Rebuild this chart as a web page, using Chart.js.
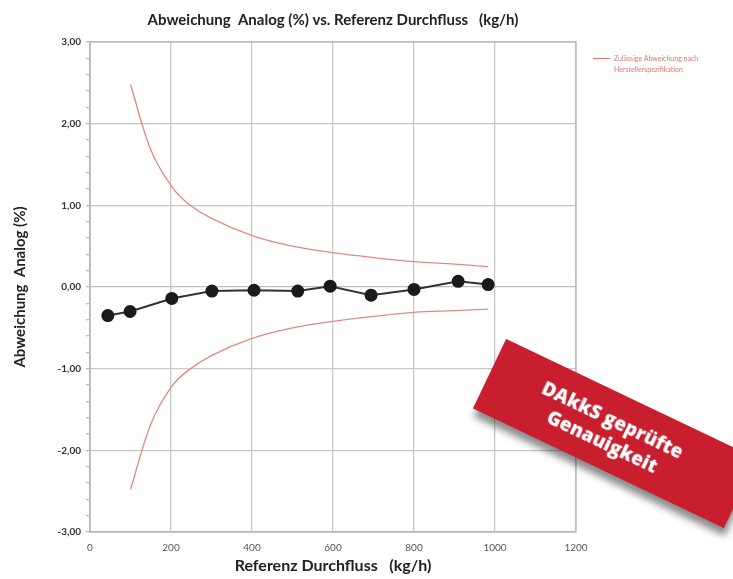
<!DOCTYPE html>
<html>
<head>
<meta charset="utf-8">
<script src="https://cdn.jsdelivr.net/npm/chart.js@4/dist/chart.umd.min.js"></script>
<style>
html,body{margin:0;padding:0;background:#fff;}
#wrap{position:relative;width:733px;height:579px;overflow:hidden;}
#legend{position:absolute;left:593px;top:53px;font-family:Lato,"Open Sans",sans-serif;font-size:7px;color:#d9776f;line-height:11px;}
#legend .ln{position:absolute;left:0;top:5px;width:17px;height:1px;background:#d9776f;}
#legend .tx{margin-left:21px;}
#badge{position:absolute;left:476px;top:395px;width:278px;height:77px;background:#c81e2d;transform:rotate(25.5deg);box-shadow:4px 7px 7px rgba(0,0,0,0.45);color:#fff;font-family:"Open Sans",Lato,sans-serif;font-weight:800;font-size:19px;line-height:24px;text-align:center;display:flex;flex-direction:column;justify-content:center;padding-right:16px;box-sizing:border-box;}
</style>
</head>
<body>
<div id="wrap">
<canvas id="c" width="733" height="579"></canvas>
<div id="legend"><div class="ln"></div><div class="tx">Zulässige Abweichung nach<br>Herstellerspezifikation</div></div>
<div id="badge"><div>DAkkS geprüfte</div><div>Genauigkeit</div></div>
</div>
<script>
const measX = [44, 99, 202, 301, 405, 513, 593, 694, 800, 909, 983];
const measY = [-0.35, -0.30, -0.14, -0.05, -0.04, -0.05, 0.01, -0.10, -0.03, 0.07, 0.03];
const limX = [100, 150, 200, 240, 300, 400, 500, 600, 700, 800, 900, 983];
const limUpper = [2.48, 1.68, 1.24, 1.03, 0.84, 0.63, 0.50, 0.42, 0.36, 0.31, 0.28, 0.25];
const limLower = [-2.48, -1.68, -1.23, -1.03, -0.84, -0.63, -0.50, -0.42, -0.36, -0.31, -0.29, -0.27];
const xTicks = [0, 200, 400, 600, 800, 1000, 1200];
const yTicks = ['-3,00', '-2,00', '-1,00', '0,00', '1,00', '2,00', '3,00'];

const toPts = (xs, ys) => xs.map((x, i) => ({x: x, y: ys[i]}));
const isInt = v => Math.abs(v - Math.round(v)) < 1e-6;
const fontFam = 'Lato, "Open Sans", sans-serif';

new Chart(document.getElementById('c'), {
  type: 'scatter',
  data: {
    datasets: [
      {label: 'Messung', data: toPts(measX, measY), showLine: true, borderColor: '#333', borderWidth: 2,
       pointRadius: 5.5, pointHoverRadius: 5.5, pointBackgroundColor: '#1a1a1a', pointBorderColor: '#1a1a1a', tension: 0},
      {label: 'Zulässige Abweichung nach Herstellerspezifikation', data: toPts(limX, limUpper), showLine: true,
       borderColor: '#e08a82', borderWidth: 1.3, pointRadius: 0, tension: 0.35},
      {label: 'lower', data: toPts(limX, limLower), showLine: true,
       borderColor: '#e08a82', borderWidth: 1.3, pointRadius: 0, tension: 0.35}
    ]
  },
  options: {
    responsive: false,
    animation: false,
    layout: {padding: {left: 7, right: 157, top: 0, bottom: 0}},
    plugins: {
      legend: {display: false},
      tooltip: {enabled: false},
      title: {display: true, fullSize: false, text: 'Abweichung  Analog (%) vs. Referenz Durchfluss   (kg/h)',
        color: '#222', font: {family: fontFam, size: 15, weight: 'bold'}, padding: {top: 11, bottom: 13}}
    },
    scales: {
      x: {
        type: 'linear', min: 0, max: 1200,
        afterBuildTicks: s => { s.ticks = xTicks.map(v => ({value: v})); },
        afterFit: s => { s.height = 47; },
        ticks: {color: '#555', font: {family: fontFam, size: 10}, padding: 10, callback: v => String(v)},
        grid: {color: '#c8c8c8', lineWidth: 1.3, drawTicks: false},
        border: {color: '#b8b8b8', width: 1.3},
        title: {display: true, text: 'Referenz Durchfluss   (kg/h)', color: '#222',
          font: {family: fontFam, size: 16, weight: 'bold'}, padding: {top: 4}}
      },
      y: {
        type: 'linear', min: -3, max: 3,
        ticks: {stepSize: 0.2, color: '#333', font: {family: fontFam, size: 10, weight: 'bold'}, padding: 5,
          autoSkip: false,
          callback: v => isInt(v) ? yTicks[Math.round(v) + 3] : ''},
        afterFit: s => { s.width = 83; },
        grid: {
          color: c => { const v = c.tick.value; if (!isInt(v)) return 'rgba(0,0,0,0)'; return Math.round(v) === 0 ? '#c4bcba' : '#c8c8c8'; },
          lineWidth: 1.3, tickLength: 4, tickColor: '#bbb', drawTicks: true
        },
        border: {color: '#b8b8b8', width: 1.3},
        title: {display: true, text: 'Abweichung  Analog (%)', color: '#222',
          font: {family: fontFam, size: 15, weight: 'bold'}, padding: {bottom: 6}}
      }
    }
  },
  plugins: [{
    id: 'frame',
    afterDraw(chart) {
      const a = chart.chartArea, ctx = chart.ctx;
      ctx.save(); ctx.strokeStyle = '#b8b8b8'; ctx.lineWidth = 1.3;
      ctx.strokeRect(a.left, a.top, a.right - a.left, a.bottom - a.top); ctx.restore();
    }
  }]
});
</script>
</body>
</html>
